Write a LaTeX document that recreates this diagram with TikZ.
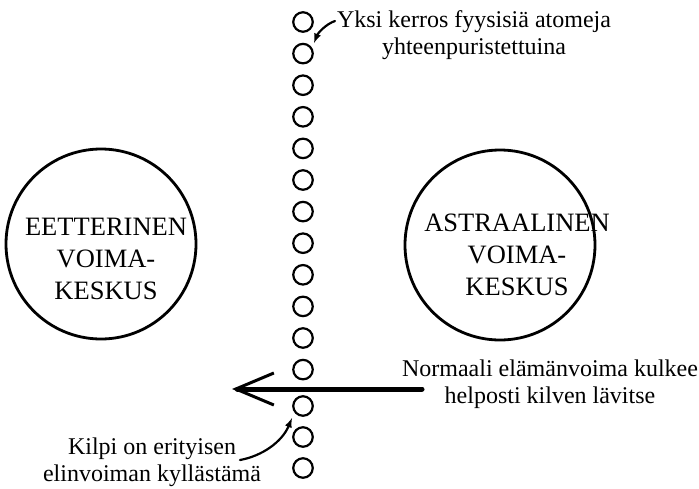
\documentclass[tikz,border=0pt]{standalone}
\usepackage{fontspec}
\setmainfont{Liberation Serif}
\usetikzlibrary{arrows.meta}

\tikzset{
  atom/.style={circle,draw,line width=2.2pt,minimum size=19.5pt,inner sep=0pt},
  centre/.style={circle,draw,line width=2.8pt,minimum size=190pt,inner sep=0pt},
  centretext/.style={align=center,inner sep=0pt,font=\fontsize{26.5}{32}\selectfont},
  note/.style={align=center,inner sep=0pt,font=\fontsize{24}{27}\selectfont},
  pointer/.style={line width=2.2pt,line cap=round,-latex},
}

\begin{document}
\begin{tikzpicture}[x=1pt,y=-1pt]
\useasboundingbox (0,0) rectangle (699,488);

% Draw the layer of atoms
\foreach \i in {0,...,11}
  \node[atom] (a\i) at (303,{22+31.6*\i}) {};
\foreach \i/\yy in {12/406,13/437,14/468}
  \node[atom] (a\i) at (303,\yy) {};

% Force centres
\node[centre] (etheric) at (101,244) {};
\node[centretext] (ethericname) at (106,259) {EETTERINEN\\VOIMA-\\KESKUS};
\node[centre] (astral) at (500,245) {};
\node[centretext] (astralname) at (517,255) {ASTRAALINEN\\VOIMA-\\KESKUS};

% Life force through the shield
\coordinate (flowstart) at (422,389);
\coordinate (flowend) at (232,389);
\draw[line width=5pt,line cap=round,-{Straight Barb[length=38pt,width=32pt,line width=3pt]}] (flowstart) -- (flowend);

% Labels
\node[note] (layer) at (474,35) {Yksi kerros fyysisiä atomeja\\yhteenpuristettuina};
\node[note] (normal) at (550,384) {Normaali elämänvoima kulkee\\helposti kilven lävitse};
\node[note] (shield) at (152,462) {Kilpi on erityisen\\elinvoiman kyllästämä};

% Pointers
\coordinate (layertail) at (335,21);
\coordinate (layertip) at (314,43);
\draw[pointer] (layertail) .. controls (326,24) and (318,33) .. (layertip);
\coordinate (shieldtail) at (240,460);
\coordinate (shieldtip) at (292,418);
\draw[pointer] (shieldtail) .. controls (262,456) and (282,442) .. (shieldtip);
\end{tikzpicture}
\end{document}
